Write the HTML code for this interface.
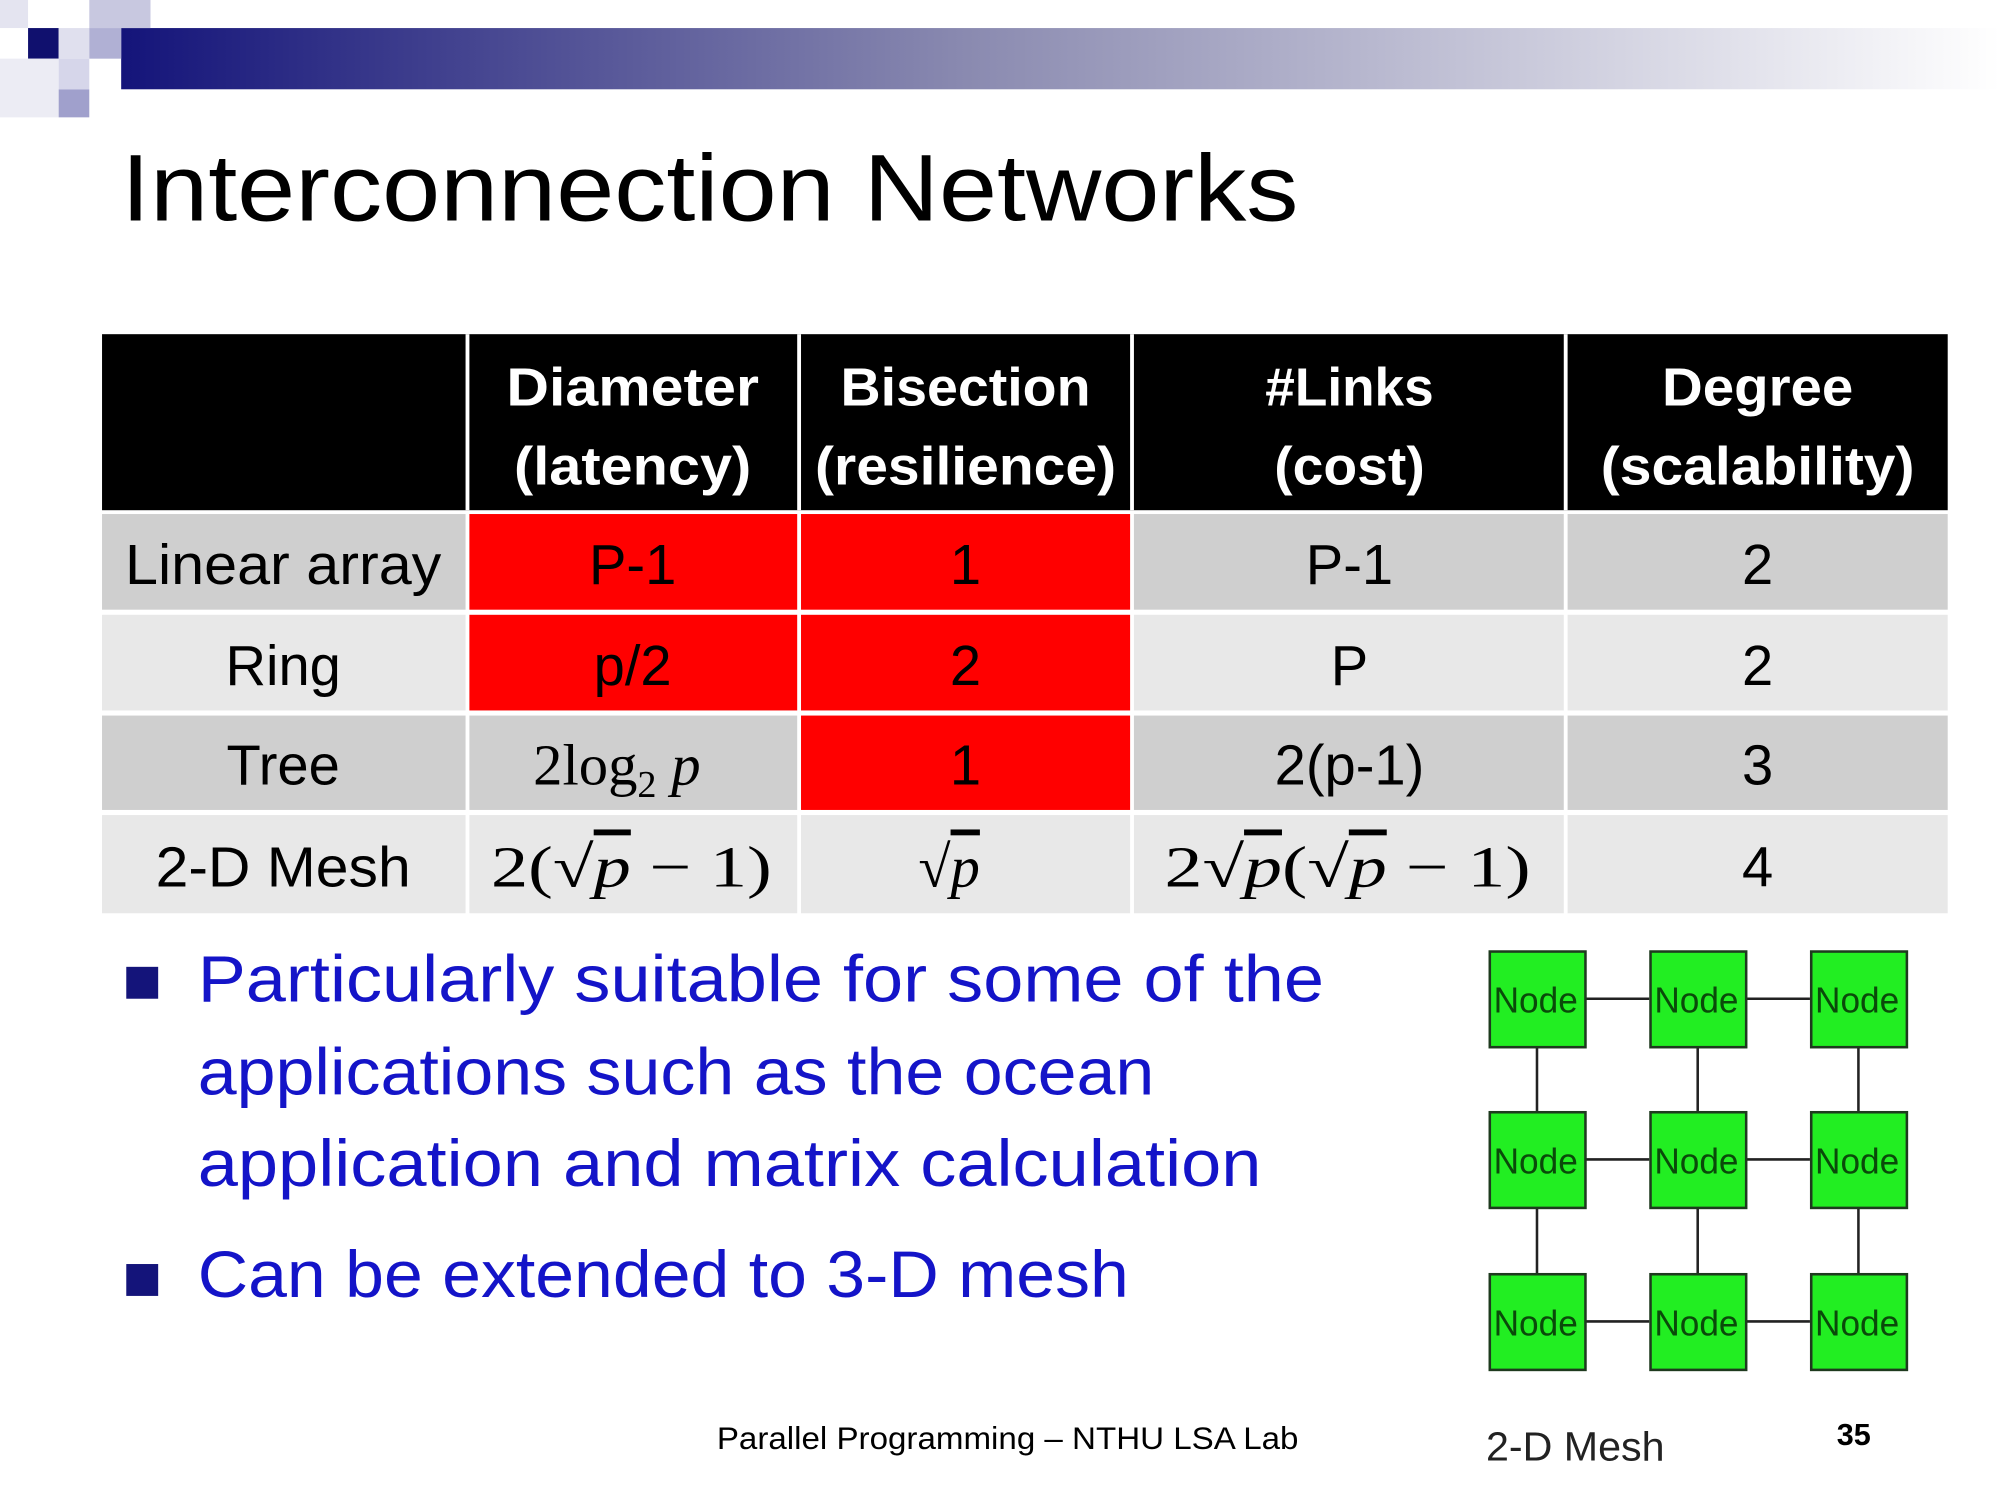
<!DOCTYPE html>
<html><head><meta charset="utf-8"><style>
html,body{margin:0;padding:0;background:#fff;width:2000px;height:1500px;overflow:hidden}
svg{display:block}
</style></head><body>
<svg width="2000" height="1500" viewBox="0 0 1568 1176" xmlns="http://www.w3.org/2000/svg" preserveAspectRatio="none">
<defs>
<linearGradient id="g" x1="0" x2="1" y1="0" y2="0">
<stop offset="0" stop-color="#14147a"/><stop offset="0.45" stop-color="#8a8ab0"/><stop offset="1" stop-color="#ffffff"/>
</linearGradient>
</defs>
<rect x="95" y="22" width="1473" height="48" fill="url(#g)"/>
<rect x="0" y="0" width="22" height="22" fill="#e4e4f0"/>
<rect x="70" y="0" width="48" height="22" fill="#c8c8e0"/>
<rect x="22" y="22" width="24" height="24" fill="#10106e"/>
<rect x="46" y="22" width="24" height="24" fill="#e0e0ee"/>
<rect x="70" y="22" width="25" height="24" fill="#b0b0d4"/>
<rect x="0" y="46" width="46" height="46" fill="#ececf4"/>
<rect x="46" y="70" width="24" height="22" fill="#a0a0cc"/>
<rect x="46" y="46" width="24" height="24" fill="#d6d6ea"/>

<text x="95" y="173" font-family="Liberation Sans, sans-serif" font-size="74" textLength="923" lengthAdjust="spacingAndGlyphs" fill="#000">Interconnection Networks</text>

<g font-family="Liberation Sans, sans-serif">
<rect x="80" y="262" width="1447" height="138" fill="#000"/>
<g fill="#fff" font-weight="bold" font-size="42" text-anchor="middle">
<text x="496" y="318" textLength="198" lengthAdjust="spacingAndGlyphs">Diameter</text>
<text x="496" y="380" textLength="186" lengthAdjust="spacingAndGlyphs">(latency)</text>
<text x="757" y="318" textLength="196" lengthAdjust="spacingAndGlyphs">Bisection</text>
<text x="757" y="380" textLength="236" lengthAdjust="spacingAndGlyphs">(resilience)</text>
<text x="1058" y="318" textLength="132" lengthAdjust="spacingAndGlyphs">#Links</text>
<text x="1058" y="380" textLength="118" lengthAdjust="spacingAndGlyphs">(cost)</text>
<text x="1378" y="318" textLength="150" lengthAdjust="spacingAndGlyphs">Degree</text>
<text x="1378" y="380" textLength="246" lengthAdjust="spacingAndGlyphs">(scalability)</text>
</g>
<rect x="365" y="262" width="3" height="138" fill="#fff"/>
<rect x="625" y="262" width="3" height="138" fill="#fff"/>
<rect x="886" y="262" width="3" height="138" fill="#fff"/>
<rect x="1226" y="262" width="3" height="138" fill="#fff"/>

<rect x="80" y="403" width="285" height="75" fill="#cfcfcf"/>
<rect x="368" y="403" width="257" height="75" fill="#ff0000"/>
<rect x="628" y="403" width="258" height="75" fill="#ff0000"/>
<rect x="889" y="403" width="337" height="75" fill="#cfcfcf"/>
<rect x="1229" y="403" width="298" height="75" fill="#cfcfcf"/>

<rect x="80" y="482" width="285" height="75" fill="#e8e8e8"/>
<rect x="368" y="482" width="257" height="75" fill="#ff0000"/>
<rect x="628" y="482" width="258" height="75" fill="#ff0000"/>
<rect x="889" y="482" width="337" height="75" fill="#e8e8e8"/>
<rect x="1229" y="482" width="298" height="75" fill="#e8e8e8"/>

<rect x="80" y="561" width="285" height="74" fill="#cfcfcf"/>
<rect x="368" y="561" width="257" height="74" fill="#cfcfcf"/>
<rect x="628" y="561" width="258" height="74" fill="#ff0000"/>
<rect x="889" y="561" width="337" height="74" fill="#cfcfcf"/>
<rect x="1229" y="561" width="298" height="74" fill="#cfcfcf"/>

<rect x="80" y="639" width="285" height="77" fill="#e8e8e8"/>
<rect x="368" y="639" width="257" height="77" fill="#e8e8e8"/>
<rect x="628" y="639" width="258" height="77" fill="#e8e8e8"/>
<rect x="889" y="639" width="337" height="77" fill="#e8e8e8"/>
<rect x="1229" y="639" width="298" height="77" fill="#e8e8e8"/>

<g fill="#000" font-size="44" text-anchor="middle">
<text x="222" y="458" textLength="248" lengthAdjust="spacingAndGlyphs">Linear array</text>
<text x="496" y="458">P-1</text>
<text x="757" y="458">1</text>
<text x="1058" y="458">P-1</text>
<text x="1378" y="458">2</text>
<text x="222" y="537">Ring</text>
<text x="496" y="537">p/2</text>
<text x="757" y="537">2</text>
<text x="1058" y="537">P</text>
<text x="1378" y="537">2</text>
<text x="222" y="615">Tree</text>
<text x="757" y="615">1</text>
<text x="1058" y="615">2(p-1)</text>
<text x="1378" y="615">3</text>
<text x="222" y="695" textLength="200" lengthAdjust="spacingAndGlyphs">2-D Mesh</text>
<text x="1378" y="695">4</text>
</g>
<g fill="#000" font-family="Liberation Serif, serif" font-size="46">
<text x="418" y="615">2log<tspan font-size="30" dy="10">2</tspan><tspan dy="-10" font-style="italic"> p</tspan></text>
<text x="385" y="695" textLength="220" lengthAdjust="spacingAndGlyphs">2(√<tspan font-style="italic" text-decoration="overline">p</tspan> − 1)</text>
<text x="720" y="695">√<tspan font-style="italic" text-decoration="overline">p</tspan></text>
<text x="913" y="695" textLength="287" lengthAdjust="spacingAndGlyphs">2√<tspan font-style="italic" text-decoration="overline">p</tspan>(√<tspan font-style="italic" text-decoration="overline">p</tspan> − 1)</text>
</g>
</g>

<rect x="99" y="758" width="25" height="25" fill="#14147a"/>
<rect x="99" y="991" width="25" height="25" fill="#14147a"/>
<g fill="#1414c8" font-family="Liberation Sans, sans-serif" font-size="52">
<text x="155" y="785" textLength="883" lengthAdjust="spacingAndGlyphs">Particularly suitable for some of the</text>
<text x="155" y="858" textLength="750" lengthAdjust="spacingAndGlyphs">applications such as the ocean</text>
<text x="155" y="930" textLength="834" lengthAdjust="spacingAndGlyphs">application and matrix calculation</text>
<text x="155" y="1017" textLength="730" lengthAdjust="spacingAndGlyphs">Can be extended to 3-D mesh</text>
</g>

<g stroke="#222" stroke-width="2">
<line x1="1243" y1="783" x2="1293" y2="783"/><line x1="1369" y1="783" x2="1419" y2="783"/>
<line x1="1243" y1="909" x2="1293" y2="909"/><line x1="1369" y1="909" x2="1419" y2="909"/>
<line x1="1243" y1="1036" x2="1293" y2="1036"/><line x1="1369" y1="1036" x2="1419" y2="1036"/>
<line x1="1205" y1="821" x2="1205" y2="871"/><line x1="1331" y1="821" x2="1331" y2="871"/><line x1="1457" y1="821" x2="1457" y2="871"/>
<line x1="1205" y1="947" x2="1205" y2="998"/><line x1="1331" y1="947" x2="1331" y2="998"/><line x1="1457" y1="947" x2="1457" y2="998"/>
</g>
<g fill="#22ee22" stroke="#1e3a1e" stroke-width="2">
<rect x="1168" y="746" width="75" height="75"/><rect x="1294" y="746" width="75" height="75"/><rect x="1420" y="746" width="75" height="75"/>
<rect x="1168" y="872" width="75" height="75"/><rect x="1294" y="872" width="75" height="75"/><rect x="1420" y="872" width="75" height="75"/>
<rect x="1168" y="999" width="75" height="75"/><rect x="1294" y="999" width="75" height="75"/><rect x="1420" y="999" width="75" height="75"/>
</g>
<g fill="#0a4a0a" font-family="Liberation Sans, sans-serif" font-size="28">
<text x="1171" y="794" textLength="66" lengthAdjust="spacingAndGlyphs">Node</text><text x="1297" y="794" textLength="66" lengthAdjust="spacingAndGlyphs">Node</text><text x="1423" y="794" textLength="66" lengthAdjust="spacingAndGlyphs">Node</text>
<text x="1171" y="920" textLength="66" lengthAdjust="spacingAndGlyphs">Node</text><text x="1297" y="920" textLength="66" lengthAdjust="spacingAndGlyphs">Node</text><text x="1423" y="920" textLength="66" lengthAdjust="spacingAndGlyphs">Node</text>
<text x="1171" y="1047" textLength="66" lengthAdjust="spacingAndGlyphs">Node</text><text x="1297" y="1047" textLength="66" lengthAdjust="spacingAndGlyphs">Node</text><text x="1423" y="1047" textLength="66" lengthAdjust="spacingAndGlyphs">Node</text>
</g>
<text x="1165" y="1145" font-family="Liberation Sans, sans-serif" font-size="32" fill="#222" textLength="140" lengthAdjust="spacingAndGlyphs">2-D Mesh</text>
<text x="1440" y="1133" font-family="Liberation Sans, sans-serif" font-size="24" font-weight="bold" fill="#000">35</text>
<text x="562" y="1136" font-family="Liberation Sans, sans-serif" font-size="25" fill="#000" textLength="456" lengthAdjust="spacingAndGlyphs">Parallel Programming – NTHU LSA Lab</text>
</svg>
</body></html>
